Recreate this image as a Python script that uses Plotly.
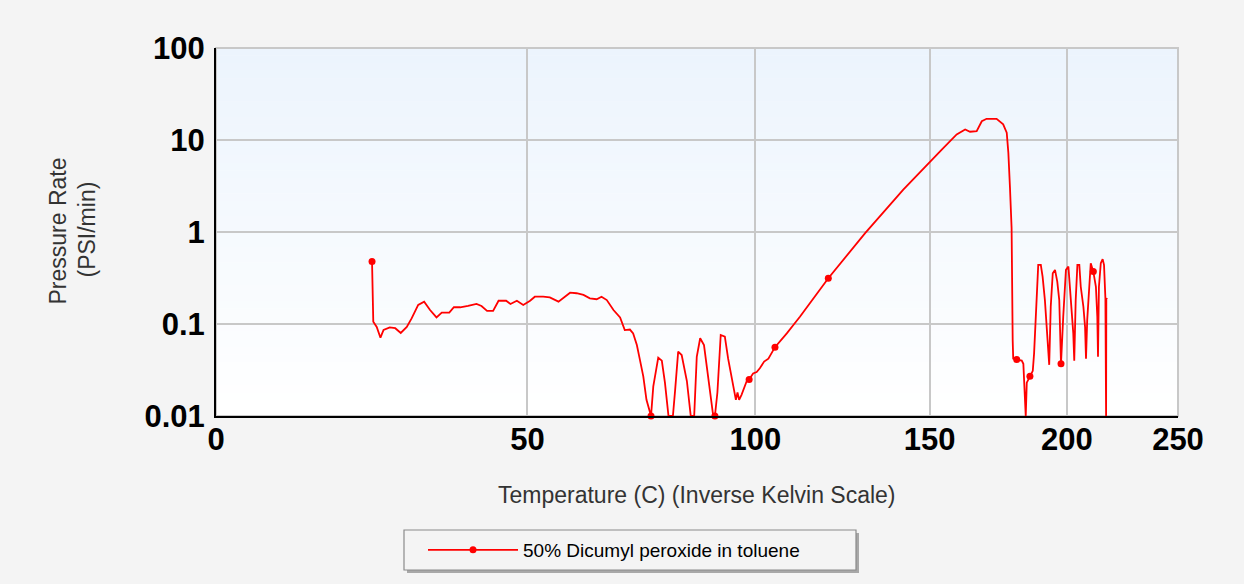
import plotly.graph_objects as go

# Pressure-rate record for 50% dicumyl peroxide in toluene
TEMP_C = [
    22.95, 23.05, 23.15, 23.7, 24.3, 24.8, 25.8, 26.7, 27.6, 28.6,
    29.4, 30.5, 31.5, 32.5, 33.6, 34.5, 35.8, 36.6, 37.7, 39.1,
    40.6, 41.5, 42.5, 43.6, 44.6, 46.0, 46.8, 48.0, 49.2, 50.5,
    51.4, 53.0, 54.3, 56.0, 57.0, 58.3, 59.6, 61.0, 62.3, 63.7,
    64.7, 65.8, 67.2, 68.6, 69.6, 70.7, 71.4, 72.2, 72.9, 73.6,
    74.3, 75.3, 75.8, 76.9, 77.7, 78.4, 79.2, 80.2, 80.7, 81.4,
    82.2, 83.4, 84.3, 85.1, 85.7, 86.5, 87.4, 88.4, 89.6, 90.0,
    90.6, 91.4, 92.4, 93.2, 94.5, 95.1, 95.5, 95.9, 96.5, 97.1,
    97.8, 98.4, 99.4, 100.3, 101.1, 102.2, 103.3, 105.0, 106.3, 108.1,
    109.8, 111.6, 119.4, 130.0, 141.6, 150.1, 154.0, 159.0, 160.1, 161.9,
    163.6, 165.9, 167.7, 169.4, 173.0, 175.4, 176.7, 177.3, 177.9, 178.5,
    178.9, 179.1, 180.4, 182.3, 182.9, 183.3, 183.8, 184.2, 185.4, 186.5,
    187.0, 188.0, 188.6, 189.6, 190.3, 191.2, 192.1, 192.9, 193.5, 194.3,
    195.2, 196.1, 196.9, 197.6, 198.5, 199.6, 200.6, 201.5, 202.6, 203.0,
    203.6, 204.3, 205.1, 205.7, 206.8, 207.5, 207.9, 208.4, 209.2, 209.9,
    211.0, 212.1, 212.7, 213.0, 213.4, 214.2, 215.0, 215.6, 216.2, 216.5,
    216.6, 217.0,
]

RATE_PSI_MIN = [
    0.477, 0.234, 0.106, 0.093, 0.071, 0.086, 0.092, 0.090, 0.080, 0.093,
    0.115, 0.161, 0.175, 0.142, 0.118, 0.133, 0.133, 0.152, 0.152, 0.157,
    0.165, 0.157, 0.139, 0.139, 0.179, 0.179, 0.165, 0.179, 0.161, 0.179,
    0.198, 0.198, 0.195, 0.175, 0.195, 0.219, 0.216, 0.207, 0.190, 0.186,
    0.198, 0.182, 0.142, 0.118, 0.086, 0.087, 0.079, 0.059, 0.040, 0.027,
    0.015, 0.010, 0.021, 0.043, 0.040, 0.023, 0.010, 0.010, 0.019, 0.050,
    0.046, 0.024, 0.010, 0.010, 0.044, 0.070, 0.059, 0.027, 0.010, 0.010,
    0.018, 0.076, 0.073, 0.042, 0.021, 0.015, 0.018, 0.015, 0.017, 0.020,
    0.024, 0.025, 0.029, 0.030, 0.033, 0.039, 0.042, 0.056, 0.064, 0.079,
    0.097, 0.120, 0.314, 0.973, 2.89, 5.87, 7.88, 11.5, 12.0, 13.0,
    12.3, 12.5, 16.0, 17.0, 17.0, 14.8, 12.0, 7.25, 3.01, 1.10,
    0.067, 0.042, 0.041, 0.040, 0.037, 0.023, 0.010, 0.023, 0.027, 0.031,
    0.048, 0.198, 0.439, 0.439, 0.327, 0.182, 0.070, 0.036, 0.154, 0.356,
    0.387, 0.289, 0.182, 0.037, 0.120, 0.387, 0.421, 0.182, 0.079, 0.040,
    0.182, 0.439, 0.439, 0.254, 0.154, 0.093, 0.042, 0.110, 0.254, 0.458,
    0.371, 0.254, 0.120, 0.044, 0.254, 0.458, 0.506, 0.439, 0.190, 0.010,
    0.190, 0.186,
]

# indices of the samples drawn with a dot
MARKED = [0, 51, 69, 81, 87, 92, 112, 118, 133, 150]

X_TICKS_C = [0, 50, 100, 150, 200, 250]
Y_TICKS = [0.01, 0.1, 1, 10, 100]
Y_TICK_TEXT = ["0.01", "0.1", "1", "10", "100"]

SERIES_NAME = "50% Dicumyl peroxide in toluene"
X_TITLE = "Temperature (C) (Inverse Kelvin Scale)"
Y_TITLE_LINES = ["Pressure Rate", "(PSI/min)"]

RED = "#ff0000"
FONT = "Liberation Sans, Arial, sans-serif"

W, H = 1244, 584
PLOT_L, PLOT_R, PLOT_T, PLOT_B = 216, 1178, 48, 416


def inv_kelvin(t_c):
    """Inverse-Kelvin coordinate (1000/K), flipped so that 0 C sits at 0."""
    return 1000.0 / 273.15 - 1000.0 / (t_c + 273.15)


def px_x(px):
    return (px - PLOT_L) / (PLOT_R - PLOT_L)


def px_y(py):
    return (PLOT_B - py) / (PLOT_B - PLOT_T)


x_vals = [inv_kelvin(t) for t in TEMP_C]

fig = go.Figure()

fig.add_trace(go.Scatter(
    x=x_vals, y=RATE_PSI_MIN, mode="lines",
    line=dict(color=RED, width=1.8),
    showlegend=False, hoverinfo="skip",
))

fig.add_trace(go.Scatter(
    x=[x_vals[i] for i in MARKED], y=[RATE_PSI_MIN[i] for i in MARKED],
    mode="markers", marker=dict(color=RED, size=7, symbol="circle"),
    cliponaxis=False, showlegend=False,
))

# legend entry
fig.add_trace(go.Scatter(
    x=[None], y=[None], mode="lines+markers", name=SERIES_NAME,
    line=dict(color=RED, width=1.6), marker=dict(color=RED, size=7),
))

shapes = []
# plot-area gradient: pale blue at the top fading to white
n = 48
top = (236, 244, 253)
bot = (255, 255, 255)
for k in range(n):
    f = k / (n - 1)
    c = tuple(round(top[j] + (bot[j] - top[j]) * f) for j in range(3))
    shapes.append(dict(
        type="rect", xref="x domain", yref="y domain",
        x0=0, x1=1, y0=1 - (k + 1) / n, y1=1 - k / n + 0.001,
        fillcolor="rgb(%d,%d,%d)" % c, line=dict(width=0), layer="below",
    ))
shapes.append(dict(
    type="rect", xref="x domain", yref="y domain", x0=0, x1=1, y0=0, y1=1,
    line=dict(color="#c8c8c8", width=2), fillcolor="rgba(0,0,0,0)", layer="below",
))

# legend frame with a drop shadow
LX0, LX1, LY0, LY1 = 404, 856, 530, 570
shapes.append(dict(
    type="rect", xref="paper", yref="paper",
    x0=px_x(LX0 + 3), x1=px_x(LX1 + 3), y0=px_y(LY1 + 3), y1=px_y(LY0 + 3),
    fillcolor="#a8a8a8", line=dict(width=0),
))
shapes.append(dict(
    type="rect", xref="paper", yref="paper",
    x0=px_x(LX0), x1=px_x(LX1), y0=px_y(LY1), y1=px_y(LY0),
    fillcolor="#f4f4f4", line=dict(color="#8a8a8a", width=1.2),
))

annotations = [
    dict(text=X_TITLE, xref="paper", yref="paper", x=px_x(697), y=px_y(495),
         xanchor="center", yanchor="middle", showarrow=False,
         font=dict(family=FONT, size=23, color="#333333")),
    dict(text=Y_TITLE_LINES[0], xref="paper", yref="paper", x=px_x(57.5), y=px_y(231),
         xanchor="center", yanchor="middle", showarrow=False, textangle=-90,
         font=dict(family=FONT, size=23, color="#333333")),
    dict(text=Y_TITLE_LINES[1], xref="paper", yref="paper", x=px_x(86.5), y=px_y(230),
         xanchor="center", yanchor="middle", showarrow=False, textangle=-90,
         font=dict(family=FONT, size=23, color="#333333")),
]

fig.update_layout(
    width=W, height=H,
    margin=dict(l=PLOT_L, r=W - PLOT_R, t=PLOT_T, b=H - PLOT_B, pad=0),
    paper_bgcolor="#f4f4f4", plot_bgcolor="#ffffff",
    font=dict(family=FONT, color="#000000"),
    shapes=shapes, annotations=annotations,
    showlegend=True,
    legend=dict(
        x=px_x(423), y=px_y(550), xanchor="left", yanchor="middle",
        bgcolor="rgba(0,0,0,0)", borderwidth=0, itemwidth=90,
        font=dict(family=FONT, size=19, color="#000000"),
    ),
)

tick_font = dict(family=FONT, size=31, color="#000000", weight="bold")

fig.update_xaxes(
    range=[inv_kelvin(0), inv_kelvin(250)],
    tickmode="array",
    tickvals=[inv_kelvin(t) for t in X_TICKS_C],
    ticktext=[str(t) for t in X_TICKS_C],
    showgrid=True, gridcolor="#c8c8c8", gridwidth=1.5,
    showline=True, linecolor="#000000", linewidth=2,
    ticks="", ticklabelstandoff=-5,
    tickfont=tick_font,
    zeroline=False, fixedrange=True,
)

fig.update_yaxes(
    type="log", range=[-2, 2],
    tickmode="array", tickvals=Y_TICKS, ticktext=Y_TICK_TEXT,
    showgrid=True, gridcolor="#c8c8c8", gridwidth=1.5,
    showline=True, linecolor="#000000", linewidth=2,
    ticks="", ticklabelstandoff=3,
    tickfont=tick_font,
    zeroline=False, fixedrange=True,
)

fig.write_html("out.html", config={"displayModeBar": False})
